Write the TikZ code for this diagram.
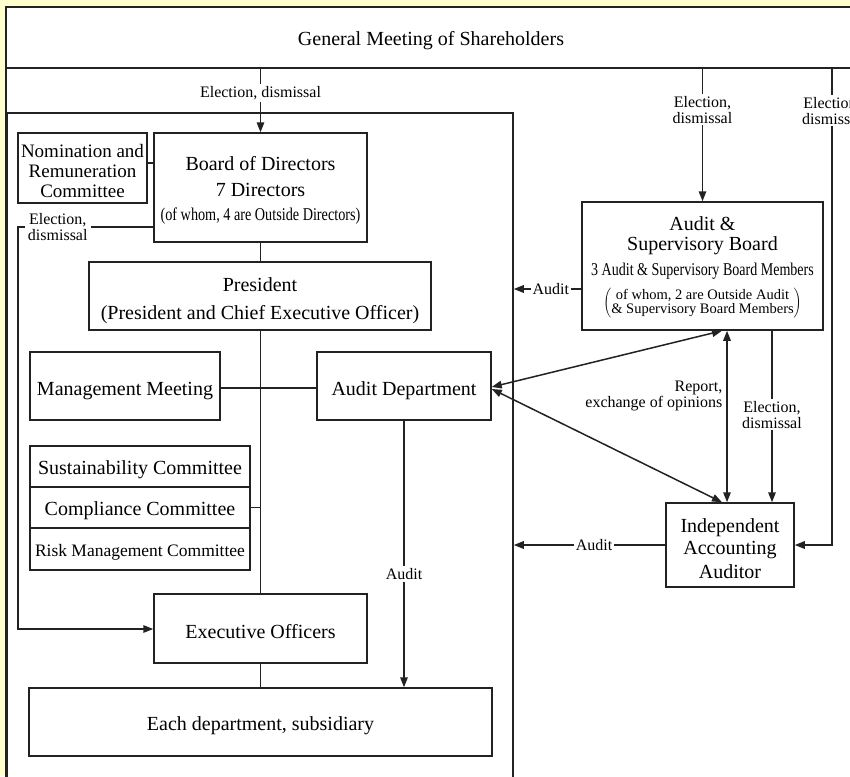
\documentclass[tikz,border=0pt]{standalone}
\usepackage{fontspec}
\setmainfont{Liberation Serif}
\newfontfamily\cond[FakeStretch=0.79]{Liberation Serif}
\newfontfamily\condb[FakeStretch=0.78]{Liberation Serif}
\usetikzlibrary{arrows.meta}
\definecolor{bgyellow}{HTML}{FFFFCC}
\definecolor{ln}{HTML}{222222}
\newcommand\tstrut[1]{\rule{0pt}{#1}}
\begin{document}
\begin{tikzpicture}[x=1pt,y=-1pt,
  box/.style={draw=ln, line width=1.5pt, fill=white, inner sep=0pt, align=center, font=\fontsize{20}{24}\selectfont},
  conn/.style={draw=ln, line width=1.5pt},
  arr/.style={conn, -{Triangle[length=10pt,width=7.5pt]}},
  darr/.style={conn, {Triangle[length=10pt,width=7.5pt]}-{Triangle[length=10pt,width=7.5pt]}},
  lbl/.style={fill=white, inner sep=2pt, align=center, font=\fontsize{16}{16}\selectfont},
]
\useasboundingbox (0,0) rectangle (850,776);
\clip (0,0) rectangle (850,776);
\fill[bgyellow] (0,0) rectangle (850,776);
\draw[fill=white, line width=1.5pt, draw=ln] (6,7) rectangle (870,800);

% main boxes
\node[box, minimum width=850, minimum height=61] (gms) at (431,37.5) {\tstrut{21pt}General Meeting of Shareholders};
\node[box, minimum width=506, minimum height=690] (big) at (260,458) {};

\node[box, minimum width=213, minimum height=109] (bod) at (260.5,187.5)
  {\tstrut{19pt}Board of Directors\\[2pt]7 Directors\\[0pt]{\cond\fontsize{18}{18}\selectfont (of whom, 4 are Outside Directors)}};
\node[box, minimum width=129, minimum height=70, font=\fontsize{19}{24}\selectfont] (nrc) at (82.5,168)
  {\tstrut{20pt}Nomination and\\[-4pt]Remuneration\\[-4pt]Committee};
\node[box, minimum width=342, minimum height=68] (pres) at (260,296)
  {\tstrut{24pt}President\\[4pt](President and Chief Executive Officer)};
\node[box, minimum width=190, minimum height=68] (mm) at (125,386) {\tstrut{24pt}Management Meeting};
\node[box, minimum width=174, minimum height=68] (ad) at (404,386) {\tstrut{24pt}Audit Department};
\node[box, minimum width=220, minimum height=41] (sc) at (140,466.5) {\tstrut{20pt}Sustainability Committee};
\node[box, minimum width=220, minimum height=41] (cc) at (140,507.5) {\tstrut{21pt}Compliance Committee};
\node[box, minimum width=220, minimum height=42, font=\fontsize{17.5}{20}\selectfont] (rmc) at (140,549) {\tstrut{19pt}Risk Management Committee};
\node[box, minimum width=213, minimum height=69] (eo) at (260.5,628.5) {\tstrut{21pt}Executive Officers};
\node[box, minimum width=463, minimum height=68] (ed) at (260.5,722) {\tstrut{21pt}Each department, subsidiary};

\node[box, minimum width=241, minimum height=128] (asb) at (702.5,266)
  {\tstrut{17pt}Audit \&\\[-4pt]Supervisory Board\\[1pt]{\condb\fontsize{18}{18}\selectfont 3 Audit \& Supervisory Board Members}\\[7pt]{\fontsize{14.5}{14}\selectfont$\left(\vcenter{\hbox{\begin{tabular}{@{}c@{}}of whom, 2 are Outside Audit\\ \& Supervisory Board Members\end{tabular}}}\right)$}};
\node[box, minimum width=128, minimum height=84] (iaa) at (730,545)
  {\tstrut{22pt}Independent\\[-2pt]Accounting\\[0pt]Auditor};

% coordinates
\coordinate (e1) at (18,227);
\coordinate (e2) at (18,629);
\coordinate (vd) at (722,0);
\coordinate (vr) at (727,0);
\coordinate (ve) at (772,0);
\coordinate (rr) at (832,545);

% connectors left side
\draw[arr] (gms.south -| bod.north) -- node[lbl, pos=0.38] {Election, dismissal} (bod.north);
\draw[conn] ([yshift=5pt]nrc.east) -- ([yshift=5pt]nrc.east -| bod.west);
\draw[arr] (bod.west |- e1) -- node[lbl, pos=0.706, inner sep=3pt] {Election,\\dismissal} (e1) -- (e2) -- (e2 -| eo.west);
\draw[conn] (bod.south) -- (bod.south |- pres.north);
\draw[conn] (bod.south |- pres.south) -- (bod.south |- eo.north);
\draw[conn] ([yshift=-2pt]mm.east) -- ([yshift=-2pt]ad.west);
\draw[conn] (cc.east) -- (cc.east -| bod.south);
\draw[conn] (eo.south) -- (eo.south |- ed.north);
\draw[arr] (ad.south) -- node[lbl, pos=0.575] {Audit} (ad.south |- ed.north);

% connectors right side
\draw[arr] (gms.south -| asb.north) -- node[lbl, pos=0.31] {Election,\\dismissal} (asb.north);
\draw[arr] (gms.south -| rr) -- node[lbl, pos=0.088] {Election,\\dismissal} (rr) -- (iaa.east);
\draw[arr] ([yshift=-23pt]asb.west) -- node[lbl, pos=0.45] {Audit} ([yshift=-23pt]asb.west -| big.east);
\draw[darr] ([yshift=-1pt]ad.east) -- (asb.south -| vd);
\draw[darr] ([yshift=-3pt]ad.east) -- (iaa.north -| vd);
\draw[darr] (asb.south -| vr) -- node[lbl, pos=0.38, left, align=right, fill=none, inner sep=4pt] {Report,\\exchange of opinions} (iaa.north -| vr);
\draw[arr] (asb.south -| ve) -- node[lbl, pos=0.49] {Election,\\dismissal} (iaa.north -| ve);
\draw[arr] (iaa.west) -- node[lbl, pos=0.47] {Audit} (iaa.west -| big.east);
\end{tikzpicture}
\end{document}
